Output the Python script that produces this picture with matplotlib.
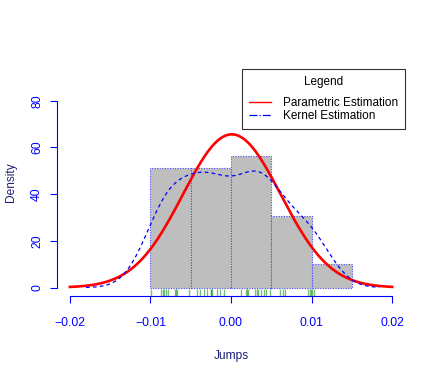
import numpy as np
import matplotlib
matplotlib.use("Agg")
import matplotlib.pyplot as plt
from matplotlib.lines import Line2D

# ---- data ----
jumps = np.array([
    -0.0099, -0.0087, -0.0084, -0.0083, -0.0081, -0.0078, -0.0070, -0.0068, -0.0067, -0.0052,
    -0.0042, -0.0039, -0.0034, -0.0030, -0.0025, -0.0025, -0.0024, -0.0017, -0.0014, -0.0009,
    0.0013, 0.0019, 0.0020, 0.0021, 0.0030, 0.0032, 0.0034, 0.0037, 0.0041, 0.0044, 0.0048,
    0.0061, 0.0064, 0.0067, 0.0096, 0.0098, 0.0099,
    0.0101, 0.0103,
])
bin_edges = [-0.01, -0.005, 0.0, 0.005, 0.01, 0.015]
norm_mean = 0.0001
norm_sd = 0.00608
kde_bw = 0.0027
x_ticks = [-0.02, -0.01, 0.00, 0.01, 0.02]
x_tick_labels = ["\u22120.02", "\u22120.01", "0.00", "0.01", "0.02"]
y_ticks = [0, 20, 40, 60, 80]

W, H = 436, 382
fig = plt.figure(figsize=(W / 100, H / 100), dpi=100)
plt.rcParams['font.family'] = ['Liberation Sans', 'DejaVu Sans']
ax = fig.add_axes([57 / W, (H - 296) / H, 348 / W, 227 / H])
ax.set_xlim(-0.0216, 0.0216)
ax.set_ylim(-3.6, 93.6)

# histogram
ax.hist(jumps, bins=bin_edges, density=True, color='#BEBEBE',
        edgecolor='#4a4aff', linestyle=(0, (1, 1.3)), linewidth=0.8, zorder=1)

# normal curve
xs = np.linspace(-0.02, 0.02, 401)
ys = np.exp(-0.5 * ((xs - norm_mean) / norm_sd) ** 2) / (norm_sd * np.sqrt(2 * np.pi))
ax.plot(xs, ys, color='red', linewidth=1.9, zorder=3)

# kernel density
xk = np.linspace(jumps.min() - 3 * kde_bw, jumps.max() + 3 * kde_bw, 512)
yk = np.exp(-0.5 * ((xk[:, None] - jumps[None, :]) / kde_bw) ** 2).sum(axis=1) / (
    len(jumps) * kde_bw * np.sqrt(2 * np.pi))
ax.plot(xk, yk, color='blue', linestyle=(0, (3, 2.5)), linewidth=0.9, zorder=4)

# rug
for v in jumps:
    ax.plot([v, v], [-3.6, -3.6 + 0.03 * 97.2], color='#108a10', alpha=0.55,
            linewidth=1.0, zorder=2, solid_capstyle='butt')

# axes styling (R-like)
for s in ['top', 'right']:
    ax.spines[s].set_visible(False)
ax.spines['left'].set_bounds(0, 80)
ax.spines['bottom'].set_bounds(-0.02, 0.02)
ax.spines['left'].set_color('blue')
ax.spines['bottom'].set_color('blue')
ax.set_xticks(x_ticks)
ax.set_xticklabels(x_tick_labels)
ax.set_yticks(y_ticks)
ax.set_yticklabels([str(t) for t in y_ticks], rotation=90, va='center')
ax.tick_params(axis='both', colors='blue', length=5, width=0.8, labelsize=8.8,
               labelcolor='blue')
ax.tick_params(axis='x', pad=10)
ax.tick_params(axis='y', pad=5)
ax.set_xlabel('Jumps', color='#1f1f7a', fontsize=8.6, labelpad=15)
ax.set_ylabel('Density', color='#1f1f7a', fontsize=8.6, labelpad=10)
ax.patch.set_visible(False)

handles = [Line2D([], [], color='red', linewidth=1.0),
           Line2D([], [], color='blue', linestyle='-.', linewidth=0.9)]
leg = ax.legend(handles, ['Parametric Estimation', 'Kernel Estimation'],
                title='Legend', loc='upper right', bbox_to_anchor=(1.0, 1.0),
                borderaxespad=0, frameon=True, fancybox=False, edgecolor='black',
                fontsize=8.5, title_fontsize=8.5, handlelength=1.9,
                handletextpad=0.95, labelspacing=0.12, borderpad=0.62)
leg.get_frame().set_linewidth(0.8)
leg._legend_box.sep = 6

fig.savefig('out.png', dpi=100)
